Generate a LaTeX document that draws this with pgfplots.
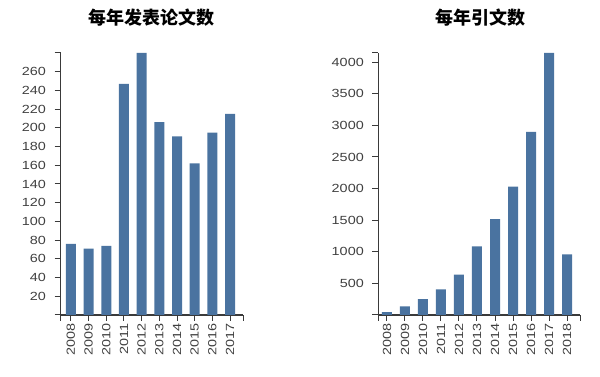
\documentclass[border=0pt]{standalone}
\usepackage{fontspec}
\usepackage{pgfplots}
\pgfplotsset{compat=1.18}
\newfontfamily\cjk{Noto Sans CJK SC}
\newfontfamily\tickfont[FakeStretch=1.22]{Liberation Sans}
\definecolor{barblue}{HTML}{4A73A0}
\definecolor{axisgray}{HTML}{3A3A3A}
\definecolor{labelgray}{HTML}{404040}
\pgfplotsset{
  d3bar/.style={
    scale only axis,
    axis x line=bottom, axis y line=left,
    axis line style={-, draw=axisgray, line width=1.1pt},
    tick align=outside,
    major tick length=6pt,
    every tick/.style={draw=axisgray, line width=1.0pt},
    tick label style={font=\tickfont\fontsize{11.8}{13}\selectfont, text=labelgray},
    /pgf/number format/assume math mode=true,
    /pgf/number format/1000 sep={},
    xtick=data,
    xticklabel style={rotate=90, anchor=east, inner sep=2pt},
    yticklabel style={xshift=-5pt},
    ymin=0,
    extra x tick labels={},
    extra y tick labels={},
    extra tick style={major tick length=6pt},
    ybar, bar width=10pt,
    clip=false,
  }
}
\begin{document}
\begin{tikzpicture}
\path[use as bounding box] (0,0) rectangle (600pt,377pt);
\node[font=\cjk\bfseries\fontsize{18}{20}\selectfont] at (151.3pt,359.3pt) {每年发表论文数};
\node[font=\cjk\bfseries\fontsize{18}{20}\selectfont] at (480.8pt,359.3pt) {每年引文数};
\begin{axis}[d3bar,
  at={(60.5pt,62pt)}, anchor=south west,
  width=182.8pt, height=262pt,
  xmin=-0.59, xmax=9.75, ymax=280,
  xticklabels={2008,2009,2010,2011,2012,2013,2014,2015,2016,2017},
  ytick={20,40,...,260},
  extra x ticks={-0.59,9.75},
  extra y ticks={0,280},
]
\addplot[fill=barblue, draw=none] coordinates {
(0,76) (1,71) (2,74) (3,247) (4,280) (5,206) (6,191) (7,162) (8,195) (9,215)
};
\end{axis}
\begin{axis}[d3bar,
  at={(378.3pt,62pt)}, anchor=south west,
  width=201.7pt, height=262pt,
  xmin=-0.48, xmax=10.72, ymax=4145,
  xticklabels={2008,2009,2010,2011,2012,2013,2014,2015,2016,2017,2018},
  ytick={500,1000,...,4000},
  extra x ticks={-0.48,10.72},
  extra y ticks={0,4145},
]
\addplot[fill=barblue, draw=none] coordinates {
(0,45) (1,136) (2,253) (3,405) (4,637) (5,1085) (6,1518) (7,2029) (8,2899) (9,4145) (10,958)
};
\end{axis}
\end{tikzpicture}
\end{document}
